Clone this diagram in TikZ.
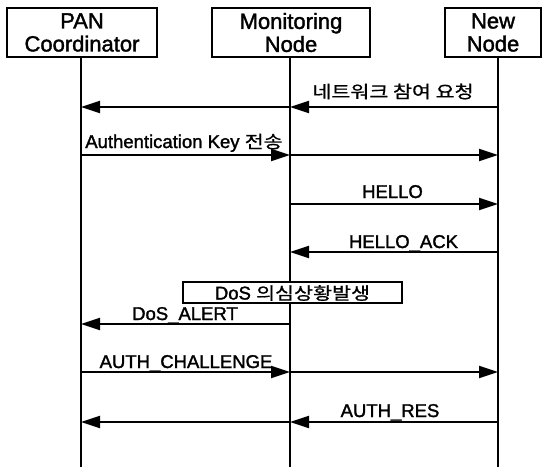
\documentclass[tikz,border=0pt]{standalone}
\usepackage{fontspec}
\setmainfont{Liberation Sans}[FakeBold=1.6]
\newfontfamily\kr{Noto Sans CJK KR}[Scale=0.93, FakeStretch=1.2, FakeBold=0.8]
\usetikzlibrary{arrows.meta}
\begin{document}
\begin{tikzpicture}[x=1pt,y=-1pt,
  actor/.style={draw, line width=1.2pt, minimum height=49pt, inner sep=0pt, align=center, font=\fontsize{22}{23}\selectfont},
  life/.style={line width=1.2pt},
  msg/.style={line width=2.2pt, -{Triangle[length=19pt,width=12pt]}},
  lbl/.style={font=\fontsize{18.5}{20}\selectfont, inner sep=0pt, anchor=base},
  note/.style={draw, fill=white, line width=1.2pt, minimum width=219pt, minimum height=21pt, inner sep=0pt, text height=16pt, text depth=2pt, font=\fontsize{18.5}{20}\selectfont}]
\useasboundingbox (0,0) rectangle (546,467);
% actors
\node[actor, minimum width=150pt] (pan) at (82,32.5) {PAN\\Coordinator};
\node[actor, minimum width=158pt] (mon) at (291,32.5) {Monitoring\\Node};
\node[actor, minimum width=96pt] (new) at (493,32.5) {New\\Node};
% lifelines
\coordinate (pl) at (81,57);  \coordinate (pb) at (81,467);
\coordinate (ml) at (290,57); \coordinate (mb) at (290,467);
\coordinate (nl) at (498,57); \coordinate (nb) at (498,467);
\draw[life] (pl) -- (pb);
\draw[life] (ml) -- (mb);
\draw[life] (nl) -- (nb);
% rows
\coordinate (r1) at (0,107);
\coordinate (r2) at (0,155);
\coordinate (r3) at (0,204);
\coordinate (r4) at (0,252);
\coordinate (r6) at (0,324);
\coordinate (r7) at (0,372);
\coordinate (r8) at (0,422);
% message 1
\draw[msg] (nl|-r1) -- (ml|-r1);
\draw[msg] (ml|-r1) -- (pl|-r1);
\node[lbl] (l1) at (393,98) {\kr 네트워크 참여 요청};
% message 2
\draw[msg] (pl|-r2) -- (ml|-r2);
\draw[msg] (ml|-r2) -- (nl|-r2);
\node[lbl] (l2) at (184,148) {Authentication Key {\kr 전송}};
% message 3
\draw[msg] (ml|-r3) -- (nl|-r3);
\node[lbl] (l3) at (392.5,198) {HELLO};
% message 4
\draw[msg] (nl|-r4) -- (ml|-r4);
\node[lbl] (l4) at (403.5,248) {HELLO\_ACK};
% DoS note
\node[note] (dos) at (292.5,292.5) {DoS {\kr 의심상황발생}};
% message 6
\draw[msg] (ml|-r6) -- (pl|-r6);
\node[lbl] (l6) at (185,320) {DoS\_ALERT};
% message 7
\draw[msg] (pl|-r7) -- (ml|-r7);
\draw[msg] (ml|-r7) -- (nl|-r7);
\node[lbl] (l7) at (186,368) {AUTH\_CHALLENGE};
% message 8
\draw[msg] (nl|-r8) -- (ml|-r8);
\draw[msg] (ml|-r8) -- (pl|-r8);
\node[lbl] (l8) at (390,417) {AUTH\_RES};
\end{tikzpicture}
\end{document}
